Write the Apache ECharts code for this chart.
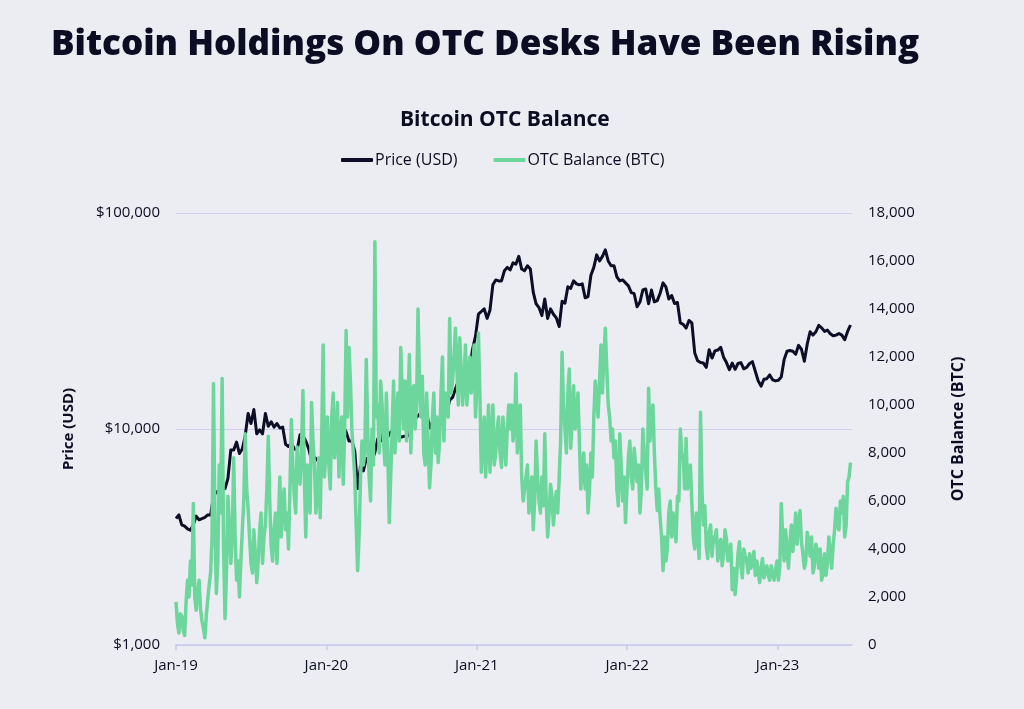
<!DOCTYPE html>
<html>
<head>
<meta charset="utf-8">
<script src="https://cdn.jsdelivr.net/npm/echarts@6/dist/echarts.min.js"></script>
<style>
html,body{margin:0;padding:0;background:#ECEDF2;}
#chart{width:1024px;height:709px;}
</style>
</head>
<body>
<div id="chart"></div>
<script>
// Weekly samples starting 2019-01-01 (OTC also has a mid-week reading)
const startDate = '2019-01-01';
const stepDays = 7;
const yearTicks = [2019, 2020, 2021, 2022, 2023];

const price2019 = [3850,4000,3600,3550,3450,3400,3600,3950,3800,3850,3900,4000,4000,4900,5100,5200,5400,5300,5900,8000,8000,8700,7700,8100,9300,11800,10600,12300,9500,9900,9500,11800,10300,10800,10200,10600,10100,10200,8500,8300,8600,8100,8000,9400,9300,8800,8100,7200,7400,7200,6900,7300,7200];
const price2020 = [8000,8800,8600,9300,9200,10300,9700,8800,8800,7900,5300,6700,6400,7300,6900,7100,7800,9000,8800,9700,8900,9500,9800,9500,9600,9150,9250,9250,9400,11000,11200,11500,11900,11400,11900,10100,10800,10500,10800,10600,11400,11900,13600,14000,15300,16700,19100,19000,18300,19400,23500,27000];
const price2021 = [34000,35000,36000,32500,35500,46500,49000,48500,48500,54000,56000,54500,58800,58000,63000,55000,54000,57000,55000,43000,38000,36500,33500,40000,32500,36000,34000,32700,29800,39000,38200,45500,44800,48500,47000,46500,47000,40500,41000,51500,56000,64000,60000,63000,67500,60000,57000,57000,50600,48500,49000,47500];
const price2022 = [46000,42800,42300,36800,38700,44000,44500,38000,44000,38800,39300,42500,47500,45500,40000,41500,38100,38500,31000,30500,29300,31800,31000,22500,20700,20300,20200,19300,23300,21300,23000,23200,23900,21500,20300,18800,20200,18900,20100,20300,19000,19300,20100,20500,18500,16700,15800,17000,17100,17800,16900,16700];
const price2023 = [16800,17400,21000,22900,23100,22900,22200,24400,23400,20600,24700,28200,27200,28200,30200,29400,28300,28700,27600,27000,27200,27700,27200,25900,28300,30300];

// OTC balance, start of each week
const otc2019 = [1800,500,1200,400,2700,3500,5900,1450,2700,1000,300,1900,3000,10900,2150,7500,11100,1100,6200,3400,7800,2700,2000,4800,8800,5700,3400,4800,2600,4800,3400,5000,8700,4100,4800,3400,7000,5900,4800,4000,9400,6200,8250,6700,10600,4500,6200,10100,7500,6200,5300,12500,8250];
const otc2020 = [7500,9500,7800,10100,8700,6700,13100,12400,9000,7000,3100,6900,7500,11900,7000,9000,16800,10000,11000,8500,10500,5100,9000,8000,10500,12400,9000,8500,12100,10500,9000,14000,9500,8000,10500,6550,9500,8000,7600,10500,8500,10000,13600,11000,13200,10000,11500,11000,10000,12000,11500,9500];
const otc2021 = [13000,7200,9500,8500,7200,10000,8000,9500,7400,8500,9000,9000,8500,11300,9500,7000,6000,7500,6200,4800,8500,6000,7000,8800,4500,6700,5000,6400,7000,12200,9000,10500,8200,10800,9500,8500,7200,6500,5500,8000,9500,10200,11000,10500,13200,10000,8500,7800,6500,8800,6000,5100];
const otc2022 = [7800,7000,8200,6800,5500,9000,7200,10700,9500,8000,5600,5300,3100,3500,5500,4500,5000,6200,9000,7800,8600,7000,5900,4000,4800,9700,5000,4100,4700,3700,4300,3500,4400,3800,4400,3900,2300,2100,3800,3300,4000,3500,3800,3500,2900,3100,3200,2800,3300,2700,3000,3100];
const otc2023 = [2700,5900,3500,4000,4300,3900,5500,5000,4300,3200,4700,3700,3000,4200,3200,2700,3800,3400,3800,4200,5700,4800,5500,4500,6800,7600];

// OTC balance, middle of each week
const otcMid2019 = [900,1300,600,1800,2000,2500,2000,2200,1500,700,1200,2500,4500,5000,3500,5500,4000,3000,5000,4500,4500,3500,3500,6000,6500,4500,3000,3800,3500,5500,4500,6500,6000,3500,5500,5000,4500,6500,5500,6500,7500,5500,7500,8000,7000,7500,5500,8500,5500,7800,8500,7000,9500];
const otcMid2020 = [6500,10500,8500,7000,9500,9000,9500,11000,8000,5000,4500,8500,8000,9000,6000,7500,9500,8000,10000,7500,8000,7000,11000,9500,8500,10500,11000,10000,8000,10800,10000,11000,11200,7500,8500,7500,10500,9500,8500,12000,10500,9500,10500,12000,11500,12800,10000,12500,11000,10500,12500,11000];
const otcMid2021 = [10500,8500,7000,10000,8500,7500,9000,8000,9500,7500,10000,10000,9000,8000,10000,6000,7000,5500,7000,6000,7000,5500,5800,6000,5500,6200,5800,5500,8500,10000,8000,11500,9500,9000,10500,6500,8000,7500,6500,7000,11000,9500,12500,12000,11500,9500,9000,8500,5800,7500,7000,6500];
const otcMid2022 = [8500,6500,7500,7500,6500,8000,6500,8500,10000,6500,6500,4500,4500,4000,6000,5500,4300,6000,8000,6500,6500,7500,4500,5500,3600,6500,5800,3600,5000,4500,4800,4000,3300,4800,3500,4200,3200,2800,4300,2800,3700,3000,3200,3900,3500,2600,3600,3100,2900,3300,2700,3500];
const otcMid2023 = [3300,4500,4800,3200,5000,4500,4200,5600,3800,3500,4300,4500,3300,3900,4000,3000,2900,4500,3200,4800,5000,6000,6200,5000,7000];

const priceValues = [].concat(price2019, price2020, price2021, price2022, price2023);
const otcValues = [].concat(otc2019, otc2020, otc2021, otc2022, otc2023);
const otcMidValues = [].concat(otcMid2019, otcMid2020, otcMid2021, otcMid2022, otcMid2023);

function yearFraction(w) {
  const t0 = Date.parse(startDate + 'T00:00:00Z');
  const t = t0 + w * stepDays * 86400000;
  const d = new Date(t);
  const y = d.getUTCFullYear();
  const a = Date.UTC(y, 0, 1), b = Date.UTC(y + 1, 0, 1);
  return y + (t - a) / (b - a);
}

const priceData = priceValues.map((v, i) => [yearFraction(i), v]);
const otcData = [];
otcValues.forEach((v, i) => {
  otcData.push([yearFraction(i), v]);
  if (i < otcMidValues.length) otcData.push([yearFraction(i + 0.5), otcMidValues[i]]);
});

const FONT = 'Open Sans';
const INK = '#0c0c22';

const chart = echarts.init(document.getElementById('chart'), null, {renderer: 'canvas'});
chart.setOption({
  backgroundColor: '#ECEDF2',
  animation: false,
  textStyle: {fontFamily: FONT, color: INK},
  title: [
    {text: 'Bitcoin Holdings On OTC Desks Have Been Rising', left: 46, top: 23,
     textStyle: {fontFamily: FONT, fontSize: 35, fontWeight: 800, color: INK}},
    {text: 'Bitcoin OTC Balance', left: 395, top: 105,
     textStyle: {fontFamily: FONT, fontSize: 21, fontWeight: 'bold', color: INK}}
  ],
  legend: {
    top: 147, left: 336, itemGap: 36, itemWidth: 32, itemHeight: 4, icon: 'roundRect',
    textStyle: {fontFamily: FONT, fontSize: 16, color: INK, padding: [0, 0, 0, -3]},
    data: [{name: 'Price (USD)'}, {name: 'OTC Balance (BTC)'}]
  },
  grid: {left: 176, right: 172, top: 213, bottom: 64, containLabel: false},
  xAxis: {
    type: 'value', min: 2019, max: 2023.495,
    axisLine: {show: true, lineStyle: {color: '#c9c9ee', width: 1.5}},
    axisTick: {show: true, length: 5, lineStyle: {color: '#c9c9ee', width: 1.5}, customValues: yearTicks},
    axisLabel: {customValues: yearTicks, fontSize: 15, color: INK, margin: 13, fontFamily: FONT,
      formatter: v => 'Jan-' + String(Math.round(v)).slice(2)},
    splitLine: {show: false}
  },
  yAxis: [
    {
      type: 'log', logBase: 10, min: 1000, max: 100000,
      name: 'Price (USD)', nameLocation: 'middle', nameGap: 100, nameRotate: 90,
      nameTextStyle: {fontFamily: FONT, fontSize: 15, fontWeight: 'bold', color: INK},
      axisLine: {show: false}, axisTick: {show: false},
      axisLabel: {fontSize: 15, color: INK, margin: 16, fontFamily: FONT,
        formatter: v => '$' + Math.round(v).toLocaleString('en-US')},
      splitLine: {show: true, lineStyle: {color: '#cfd0f0', width: 1.2}}
    },
    {
      type: 'value', min: 0, max: 18000, interval: 2000,
      name: 'OTC Balance (BTC)', nameLocation: 'middle', nameGap: 98, nameRotate: 90,
      nameTextStyle: {fontFamily: FONT, fontSize: 16, fontWeight: 'bold', color: INK},
      axisLine: {show: false}, axisTick: {show: false},
      axisLabel: {fontSize: 15, color: INK, margin: 16, fontFamily: FONT,
        formatter: v => Math.round(v).toLocaleString('en-US')},
      splitLine: {show: false}
    }
  ],
  series: [
    {name: 'Price (USD)', type: 'line', yAxisIndex: 0, data: priceData, showSymbol: false, symbol: 'none',
     color: '#0d0d26', lineStyle: {width: 3, color: '#0d0d26', join: 'round'}, z: 2},
    {name: 'OTC Balance (BTC)', type: 'line', yAxisIndex: 1, data: otcData, showSymbol: false, symbol: 'none',
     color: '#6dd69c', lineStyle: {width: 3.5, color: '#6dd69c', join: 'round'}, z: 3}
  ]
});
</script>
</body>
</html>
